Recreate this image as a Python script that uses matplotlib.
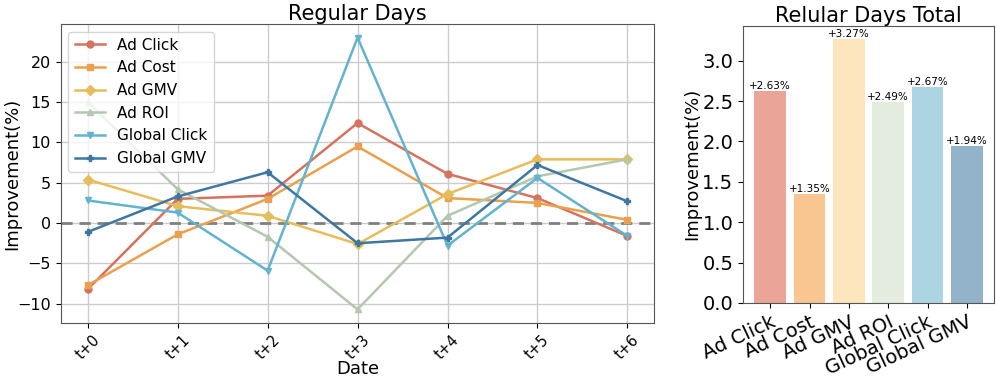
import matplotlib
matplotlib.use('Agg')
from matplotlib import pyplot as plt

dates = ['t+0', 't+1', 't+2', 't+3', 't+4', 't+5', 't+6']
metrics = ['Ad Click', 'Ad Cost', 'Ad GMV', 'Ad ROI', 'Global Click', 'Global GMV']

ad_click = [-8.2, 3.0, 3.4, 12.4, 6.1, 3.1, -1.6]
ad_cost = [-7.7, -1.4, 3.0, 9.5, 3.1, 2.5, 0.4]
ad_gmv = [5.4, 2.1, 0.9, -2.6, 3.6, 7.9, 7.9]
ad_roi = [15.0, 4.2, -1.7, -10.7, 0.9, 5.8, 7.9]
global_click = [2.8, 1.3, -5.9, 23.0, -2.8, 5.6, -1.6]
global_gmv = [-1.1, 3.3, 6.3, -2.5, -1.8, 7.2, 2.7]

totals = [2.63, 1.35, 3.27, 2.49, 2.67, 1.94]

line_colors = ['#d4735e', '#e9a04f', '#e6bd5c', '#b3c8ae', '#63b3d0', '#3f77a1']
bar_colors = ['#eba498', '#f9c691', '#fde6be', '#e3ecdf', '#add4e3', '#92b3c9']
markers = ['o', 's', 'D', '^', 'v', 'P']

fig = plt.figure(figsize=(9.96, 3.8), dpi=100)

# 左图：每日提升
ax1 = fig.add_axes([0.061, 0.15, 0.596, 0.787])
series = [ad_click, ad_cost, ad_gmv, ad_roi, global_click, global_gmv]
x = list(range(len(dates)))
for name, vals, c, m in zip(metrics, series, line_colors, markers):
    ax1.plot(x, vals, color=c, marker=m, markersize=5, linewidth=1.8, label=name)
ax1.axhline(0, color='gray', linestyle='--', linewidth=2, dashes=(4, 2.5), zorder=1)
ax1.grid(True, color='#cccccc', linewidth=1)
ax1.set_axisbelow(True)
ax1.set_xticks(x)
ax1.set_xticklabels(dates, rotation=45, fontsize=10.5)
ax1.tick_params(axis='y', labelsize=11.5)
ax1.set_xlabel('Date', fontsize=13, labelpad=-2)
ax1.set_ylabel('Improvement(%)', fontsize=13)
ax1.yaxis.set_label_coords(-0.066, 0.5)
ax1.set_title('Regular Days', fontsize=15, pad=3)
ax1.legend(loc='upper left', fontsize=11)
for s in ax1.spines.values():
    s.set_color('#555555')

# 右图：总计
ax2 = fig.add_axes([0.746, 0.203, 0.252, 0.729])
bars = ax2.bar(range(len(metrics)), totals, color=bar_colors, width=0.8)
for b, v in zip(bars, totals):
    ax2.text(b.get_x() + b.get_width() / 2, v, '+%.2f%%' % v,
             ha='center', va='bottom', fontsize=7.5)
ax2.set_xticks(range(len(metrics)))
ax2.set_xticklabels(metrics, rotation=25, ha='right', fontsize=14,
                    rotation_mode='anchor')
ax2.tick_params(axis='y', labelsize=14)
ax2.set_ylabel('Improvement(%)', fontsize=13)
ax2.yaxis.set_label_coords(-0.165, 0.5)
ax2.set_title('Relular Days Total', fontsize=15, pad=3)
for s in ax2.spines.values():
    s.set_color('#555555')

plt.savefig('out.png', dpi=100)
